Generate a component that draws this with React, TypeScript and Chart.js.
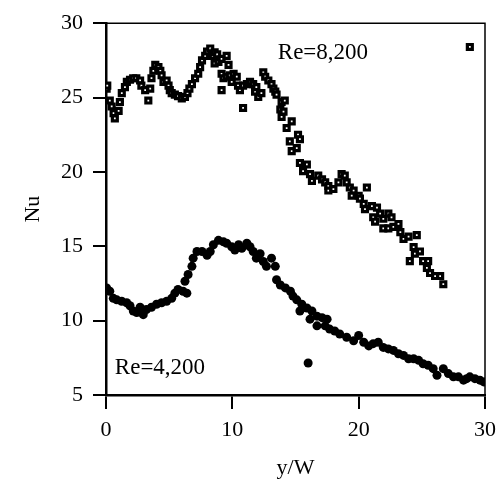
import React, { useEffect, useRef } from "react";
import { Chart, registerables } from "chart.js";

Chart.register(...registerables);

// Re = 8,200 (open squares)
const re8200X = [
  0.05, 0.1, 0.3, 0.45, 0.6, 0.7, 1.0, 1.1, 1.25, 1.5, 1.65, 1.9, 2.15, 2.4, 2.7, 2.8, 3.1, 3.35, 3.5, 3.6,
  3.75, 3.9, 4.15, 4.3, 4.4, 4.55, 4.8, 4.95, 5.05, 5.2, 5.45, 5.7, 6.0, 6.25, 6.45, 6.6, 6.8, 7.05, 7.3, 7.45,
  7.6, 7.85, 8.0, 8.25, 8.45, 8.6, 8.8, 8.6, 8.9, 9.15, 9.55, 9.7, 9.15, 9.3, 9.15, 9.55, 9.8, 9.95, 10.1, 10.35,
  10.45, 10.6, 10.85, 10.85, 11.15, 11.4, 11.65, 11.8, 11.9, 12.05, 12.3, 12.45, 12.6, 12.85, 13.1, 13.25, 13.4, 13.5, 13.9, 14.15,
  13.8, 13.9, 14.3, 14.7, 14.55, 14.05, 15.2, 15.35, 14.7, 15.1, 15.35, 15.9, 15.6, 16.15, 16.3, 16.8, 17.1, 17.35, 17.6, 17.6,
  18.0, 18.4, 18.65, 18.9, 19.05, 19.3, 19.6, 19.45, 20.0, 20.1, 20.65, 20.4, 20.5, 21.05, 21.45, 21.15, 21.3, 21.7, 21.95, 22.35,
  22.6, 21.95, 22.35, 22.75, 23.15, 23.3, 23.55, 23.95, 24.6, 24.35, 24.45, 24.85, 24.05, 25.1, 25.5, 25.4, 25.65, 26.05, 26.45, 26.7,
  28.8,
];
const re8200Y = [
  25.6, 25.8, 24.8, 24.4, 23.95, 23.6, 24.1, 24.7, 25.3, 25.7, 26.05, 26.2, 26.3, 26.3, 26.15, 25.8, 25.5, 24.8, 25.6, 26.3,
  26.8, 27.2, 27.05, 26.8, 26.5, 26.05, 26.15, 25.8, 25.5, 25.3, 25.2, 25.1, 24.95, 25.05, 25.3, 25.6, 25.9, 26.3, 26.6, 27.05,
  27.5, 27.8, 28.1, 28.3, 27.8, 28.05, 27.9, 27.3, 27.4, 27.6, 27.8, 27.2, 26.6, 26.3, 25.5, 26.4, 26.5, 26.05, 26.6, 26.4,
  25.8, 25.5, 24.3, 25.8, 25.9, 26.05, 25.9, 25.4, 25.7, 25.05, 25.3, 26.7, 26.4, 26.15, 25.9, 25.6, 25.4, 25.2, 24.7, 24.8,
  24.2, 23.7, 22.95, 23.4, 22.05, 24.05, 22.5, 22.2, 21.4, 21.6, 20.6, 20.5, 20.05, 19.85, 19.4, 19.75, 19.5, 19.3, 19.05, 18.75,
  18.85, 19.3, 19.85, 19.75, 19.3, 18.95, 18.75, 18.4, 18.4, 18.2, 18.95, 17.85, 17.5, 17.7, 17.6, 16.95, 16.65, 17.2, 16.85, 17.2,
  16.95, 16.2, 16.2, 16.3, 16.5, 15.95, 15.5, 15.65, 15.75, 14.95, 14.5, 14.65, 14.0, 14.0, 14.0, 13.55, 13.2, 13.0, 13.0, 12.45,
  28.4,
];

// Re = 4,200 (filled circles)
const re4200X = [
  0.05, 0.3, 0.58, 0.85, 1.24, 1.64, 1.9, 2.16, 2.43, 2.7, 2.95, 3.2, 3.6, 4.0, 4.4, 4.8, 5.2, 5.45, 5.7, 6.1,
  6.4, 6.25, 6.5, 6.8, 6.9, 7.2, 7.6, 8.0, 8.25, 8.5, 8.9, 9.3, 9.55, 9.95, 10.2, 10.5, 10.75, 11.15, 11.4, 11.65,
  11.9, 12.2, 12.45, 12.7, 13.1, 13.4, 13.5, 13.8, 14.2, 14.6, 14.8, 15.1, 15.5, 15.9, 16.3, 16.7, 17.1, 17.5,
  15.35, 16.15, 16.7, 17.35, 17.7, 18.1, 18.5, 19.05, 19.6, 20.0, 20.4, 20.8, 21.15, 21.55, 21.95, 22.35, 22.75, 23.15,
  23.55, 23.95, 24.35, 24.75, 25.1, 25.5, 25.9, 26.2, 26.7, 27.1, 27.5, 27.9, 28.3, 28.55, 28.8, 29.2, 29.6, 29.9,
  16.0,
];
const re4200Y = [
  12.2, 11.98, 11.5, 11.4, 11.3, 11.2, 11.0, 10.65, 10.55, 10.9, 10.4, 10.75, 10.9, 11.1, 11.2, 11.3, 11.5, 11.85, 12.1, 11.98,
  11.85, 12.65, 13.1, 13.65, 14.2, 14.65, 14.65, 14.4, 14.65, 15.1, 15.4, 15.3, 15.2, 14.97, 14.75, 15.1, 14.86, 15.2, 14.97, 14.65,
  14.2, 14.5, 13.98, 13.65, 14.2, 13.65, 12.75, 12.4, 12.2, 11.98, 11.65, 11.4, 11.1, 10.85, 10.65, 10.3, 10.2, 10.1,
  10.65, 10.1, 9.65, 9.65, 9.43, 9.3, 9.1, 8.88, 8.65, 9.0, 8.55, 8.3, 8.45, 8.55, 8.2, 8.1, 8.0, 7.77,
  7.66, 7.44, 7.44, 7.33, 7.1, 7.0, 6.77, 6.33, 6.77, 6.44, 6.22, 6.22, 6.0, 6.1, 6.22, 6.1, 6.0, 5.88,
  7.15,
];

const xTicks = [0, 10, 20, 30];
const yTicks = [5, 10, 15, 20, 25, 30];
const annotationTexts = ["Re=8,200", "Re=4,200"];
const annotationX = [13.6, 0.7];
const annotationY = [27.6, 6.4];
const xTitle = "y/W";
const yTitle = "Nu";

const FONT = "'Liberation Serif', 'Times New Roman', serif";

export default function App() {
  const canvasRef = useRef<HTMLCanvasElement | null>(null);

  useEffect(() => {
    const canvas = canvasRef.current;
    if (!canvas) return;

    const framePlugin = {
      id: "frameAndNotes",
      afterDatasetsDraw(chart: any) {
        const { ctx, chartArea, scales } = chart;
        ctx.save();
        ctx.strokeStyle = "#000";
        ctx.lineWidth = 1.5;
        ctx.beginPath();
        ctx.moveTo(chartArea.left, chartArea.top);
        ctx.lineTo(chartArea.right, chartArea.top);
        ctx.lineTo(chartArea.right, chartArea.bottom);
        ctx.stroke();
        ctx.fillStyle = "#000";
        ctx.font = `23px ${FONT}`;
        ctx.textAlign = "left";
        ctx.textBaseline = "alphabetic";
        annotationTexts.forEach((t, i) => {
          ctx.fillText(t, scales.x.getPixelForValue(annotationX[i]), scales.y.getPixelForValue(annotationY[i]));
        });
        ctx.restore();
      },
    };

    const chart = new Chart(canvas, {
      type: "scatter",
      data: {
        datasets: [
          {
            label: "Re=8,200",
            data: re8200X.map((x, i) => ({ x, y: re8200Y[i] })),
            pointStyle: "rect",
            pointRadius: 3.5,
            borderWidth: 3.2,
            borderColor: "#000",
            backgroundColor: "#fff",
          },
          {
            label: "Re=4,200",
            data: re4200X.map((x, i) => ({ x, y: re4200Y[i] })),
            pointStyle: "circle",
            pointRadius: 4.5,
            borderWidth: 0,
            borderColor: "#000",
            backgroundColor: "#000",
          },
        ],
      },
      options: {
        responsive: false,
        animation: false,
        layout: { padding: { left: 0, top: 19, right: 19, bottom: 0 } },
        plugins: {
          legend: { display: false },
          tooltip: { enabled: false },
        },
        scales: {
          x: {
            type: "linear",
            min: 0,
            max: 30,
            afterFit: (s: any) => {
              s.height = 92;
            },
            afterBuildTicks: (s: any) => {
              s.ticks = xTicks.map((v) => ({ value: v }));
            },
            ticks: {
              color: "#000",
              font: { family: FONT, size: 22 },
              padding: 8,
              maxRotation: 0,
            },
            grid: {
              display: true,
              drawOnChartArea: false,
              drawTicks: true,
              tickLength: 14,
              color: "#000",
              lineWidth: 2,
            },
            border: { display: true, color: "#000", width: 2.5 },
            title: {
              display: true,
              text: xTitle,
              color: "#000",
              font: { family: FONT, size: 22 },
              padding: { top: 0, bottom: 6 },
            },
          },
          y: {
            type: "linear",
            min: 5,
            max: 30,
            afterFit: (s: any) => {
              s.width = 106;
            },
            afterBuildTicks: (s: any) => {
              s.ticks = yTicks.map((v) => ({ value: v }));
            },
            ticks: {
              color: "#000",
              font: { family: FONT, size: 22 },
              padding: 10,
            },
            grid: {
              display: true,
              drawOnChartArea: false,
              drawTicks: true,
              tickLength: 13,
              color: "#000",
              lineWidth: 2,
            },
            border: { display: true, color: "#000", width: 2.5 },
            title: {
              display: true,
              text: yTitle,
              color: "#000",
              font: { family: FONT, size: 22 },
              padding: { top: 20, bottom: 0 },
            },
          },
        },
      },
      plugins: [framePlugin],
    });

    return () => chart.destroy();
  }, []);

  return (
    <div style={{ position: "absolute", left: 0, top: 0, width: 504, height: 487, background: "#fff" }}>
      <canvas ref={canvasRef} width={504} height={487} style={{ width: 504, height: 487, display: "block" }} />
    </div>
  );
}
